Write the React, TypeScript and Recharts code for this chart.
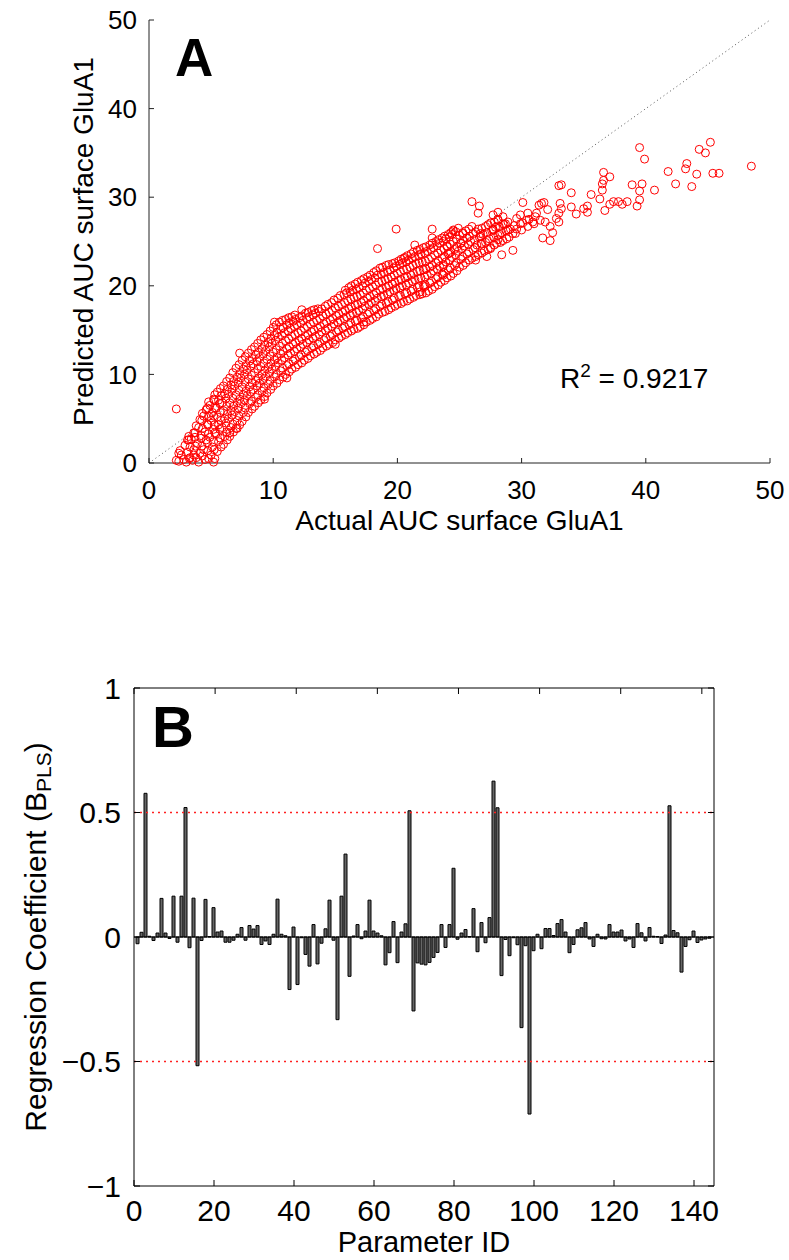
import {
  ScatterChart,
  Scatter,
  BarChart,
  Bar,
  XAxis,
  YAxis,
  ReferenceLine,
} from 'recharts'

// Panel A: actual vs predicted AUC surface GluA1, [actual, predicted]
const aucPoints: [number, number][] = [
  [2.2, 6.1], [2.2, 0.3], [2.4, 1.1], [2.4, 0.2], [2.6, 0.9], [2.5, 1.4], [2.8, 0.4],
  [3.0, 0.1], [3.1, 1.2], [2.9, 2.0], [3.2, 2.6], [3.3, 0.6], [3.1, 2.6], [3.6, 3.4],
  [3.5, 0.3], [3.6, 1.5], [3.4, 2.7], [3.7, 3.4], [3.6, 0.9],
  [4.0, 0.1], [4.1, 1.1], [3.9, 2.2], [4.2, 3.1], [4.0, 4.0], [4.1, 4.9],
  [4.5, 0.4], [4.4, 1.5], [4.6, 2.6], [4.5, 3.5], [4.7, 4.4], [4.4, 5.3], [4.6, 6.0],
  [5.0, 0.9], [5.1, 1.8], [4.9, 2.9], [5.2, 3.8], [5.0, 4.8], [5.1, 5.7], [4.9, 6.5], [5.2, 7.2], [5.2, 0.1],
  [5.5, 1.3], [5.6, 2.4], [5.4, 3.3], [5.6, 4.3], [5.5, 5.2], [5.4, 6.2], [5.6, 7.1], [5.5, 8.0],
  [6.0, 2.1], [6.1, 3.0], [5.9, 4.0], [6.1, 5.0], [6.0, 5.9], [5.9, 6.8], [6.1, 7.8], [6.0, 8.7],
  [6.5, 3.0], [6.6, 4.0], [6.4, 5.0], [6.6, 5.9], [6.5, 6.8], [6.4, 7.8], [6.6, 8.8], [6.5, 9.6], [6.5, 3.4],
  [7.0, 3.9], [7.1, 4.8], [6.9, 5.8], [7.1, 6.8], [7.0, 7.7], [6.9, 8.7], [7.1, 9.7], [7.0, 10.7], [7.1, 3.9],
  [7.5, 4.7], [7.6, 5.7], [7.4, 6.7], [7.6, 7.7], [7.5, 8.6], [7.4, 9.6], [7.6, 10.6], [7.5, 11.6], [7.3, 12.4],
  [8.0, 5.7], [8.1, 6.7], [7.9, 7.6], [8.1, 8.6], [8.0, 9.5], [7.9, 10.5], [8.1, 11.5], [8.0, 12.4],
  [8.5, 6.4], [8.6, 7.4], [8.4, 8.3], [8.6, 9.3], [8.5, 10.2], [8.4, 11.2], [8.6, 12.2], [8.5, 13.1],
  [9.0, 7.1], [9.1, 8.1], [8.9, 9.0], [9.1, 10.0], [9.0, 10.9], [8.9, 11.9], [9.1, 12.9], [9.0, 13.9],
  [9.5, 7.9], [9.6, 8.9], [9.4, 9.8], [9.6, 10.8], [9.5, 11.7], [9.4, 12.7], [9.6, 13.6], [9.5, 14.5], [9.3, 7.2],
  [10.0, 8.7], [10.1, 9.7], [9.9, 10.6], [10.1, 11.6], [10.0, 12.5], [9.9, 13.5], [10.1, 14.4], [10.0, 15.3], [10.1, 15.9],
  [10.5, 9.4], [10.6, 10.4], [10.4, 11.3], [10.6, 12.3], [10.5, 13.2], [10.4, 14.2], [10.6, 15.1], [10.5, 15.9],
  [11.0, 10.0], [11.1, 11.0], [10.9, 11.9], [11.1, 12.9], [11.0, 13.8], [10.9, 14.7], [11.1, 15.6], [11.0, 16.2], [11.1, 9.6],
  [11.5, 10.6], [11.6, 11.5], [11.4, 12.4], [11.6, 13.4], [11.5, 14.3], [11.4, 15.2], [11.6, 16.0], [11.5, 16.5],
  [12.0, 11.1], [12.1, 12.0], [11.9, 12.9], [12.1, 13.8], [12.0, 14.7], [11.9, 15.6], [12.1, 16.4], [12.3, 17.3],
  [12.5, 11.6], [12.6, 12.5], [12.4, 13.4], [12.6, 14.3], [12.5, 15.2], [12.4, 16.1], [12.6, 16.9],
  [13.0, 12.1], [13.1, 13.0], [12.9, 13.9], [13.1, 14.8], [13.0, 15.7], [12.9, 16.5], [13.1, 17.2],
  [13.5, 12.5], [13.6, 13.4], [13.4, 14.3], [13.6, 15.2], [13.5, 16.1], [13.4, 16.9], [13.6, 17.4],
  [14.0, 13.0], [14.1, 13.9], [13.9, 14.8], [14.1, 15.7], [14.0, 16.6], [13.9, 17.4],
  [14.5, 13.4], [14.6, 14.3], [14.4, 15.2], [14.6, 16.1], [14.5, 17.0], [14.4, 17.9],
  [15.0, 13.9], [15.1, 14.8], [14.9, 15.7], [15.1, 16.6], [15.0, 17.5], [14.9, 18.4], [15.0, 13.4],
  [15.5, 14.3], [15.6, 15.2], [15.4, 16.1], [15.6, 17.0], [15.5, 17.9], [15.4, 18.9],
  [16.0, 14.7], [16.1, 15.6], [15.9, 16.5], [16.1, 17.4], [16.0, 18.3], [15.9, 19.2], [16.1, 19.8],
  [16.5, 15.1], [16.6, 16.0], [16.4, 16.9], [16.6, 17.8], [16.5, 18.7], [16.4, 19.5], [16.6, 20.2],
  [17.0, 15.4], [17.1, 16.3], [16.9, 17.2], [17.1, 18.1], [17.0, 19.0], [16.9, 19.8], [17.1, 20.6], [17.3, 15.9],
  [17.5, 15.9], [17.6, 16.8], [17.4, 17.7], [17.6, 18.6], [17.5, 19.5], [17.4, 20.3], [17.6, 21.0],
  [18.0, 16.3], [18.1, 17.2], [17.9, 18.1], [18.1, 19.0], [18.0, 19.9], [17.9, 20.7], [18.1, 21.5], [18.4, 24.2],
  [18.5, 16.8], [18.6, 17.7], [18.4, 18.6], [18.6, 19.5], [18.5, 20.4], [18.4, 21.2], [18.6, 22.0],
  [19.0, 17.1], [19.1, 18.0], [18.9, 18.9], [19.1, 19.8], [19.0, 20.7], [18.9, 21.5], [19.1, 22.3],
  [19.5, 17.5], [19.6, 18.4], [19.4, 19.3], [19.6, 20.2], [19.5, 21.0], [19.4, 21.8], [19.6, 22.5], [19.9, 26.4],
  [20.0, 17.9], [20.1, 18.8], [19.9, 19.7], [20.1, 20.6], [20.0, 21.4], [19.9, 22.2], [20.1, 22.8],
  [20.5, 18.2], [20.6, 19.1], [20.4, 20.0], [20.6, 20.9], [20.5, 21.8], [20.4, 22.6], [20.6, 23.2], [20.5, 23.1],
  [21.0, 18.5], [21.1, 19.4], [20.9, 20.3], [21.1, 21.2], [21.0, 22.1], [20.9, 22.9], [21.1, 23.6],
  [21.5, 18.9], [21.6, 19.8], [21.4, 20.7], [21.6, 21.6], [21.5, 22.5], [21.4, 23.3], [21.6, 24.0], [21.4, 24.6],
  [22.0, 19.1], [22.1, 20.0], [21.9, 20.9], [22.1, 21.8], [22.0, 22.7], [21.9, 23.6], [22.1, 24.3], [21.8, 19.3],
  [22.5, 19.4], [22.6, 20.3], [22.4, 21.2], [22.6, 22.1], [22.5, 23.0], [22.4, 23.9], [22.6, 24.6], [22.8, 26.4], [22.8, 25.4],
  [23.0, 19.9], [23.1, 20.8], [22.9, 21.7], [23.1, 22.6], [23.0, 23.5], [22.9, 24.3], [23.1, 25.0], [22.2, 19.9],
  [23.5, 20.4], [23.6, 21.3], [23.4, 22.2], [23.6, 23.1], [23.5, 24.0], [23.4, 24.8], [23.6, 25.4], [23.7, 21.2],
  [24.0, 20.9], [24.1, 21.8], [23.9, 22.7], [24.1, 23.6], [24.0, 24.5], [23.9, 25.3], [24.1, 25.8], [24.5, 26.2],
  [24.5, 21.4], [24.6, 22.3], [24.4, 23.2], [24.6, 24.1], [24.5, 25.0], [24.4, 25.8], [24.0, 24.4], [23.7, 22.2],
  [25.0, 22.1], [25.1, 23.0], [24.9, 23.9], [25.1, 24.8], [25.0, 25.7], [24.9, 26.5], [24.5, 26.3], [25.3, 25.9],
  [25.5, 22.6], [25.6, 23.6], [25.4, 24.5], [25.6, 25.4], [25.5, 26.2], [25.1, 24.8], [24.2, 23.7],
  [26.0, 23.1], [26.1, 24.1], [25.9, 25.0], [26.1, 25.9], [26.0, 26.7], [26.0, 29.5], [26.6, 29.0], [26.5, 28.2],
  [26.5, 23.5], [26.4, 24.6], [26.6, 25.5], [26.5, 26.4], [26.7, 25.9], [26.8, 24.8], [26.3, 22.9],
  [27.0, 23.9], [27.1, 24.9], [26.9, 25.8], [27.1, 26.7], [27.2, 23.3], [27.5, 24.2], [27.7, 26.3],
  [27.5, 24.3], [27.4, 25.3], [27.6, 26.2], [27.5, 27.1], [27.7, 28.0], [28.1, 28.3],
  [28.0, 24.8], [28.1, 25.7], [27.9, 26.6], [28.1, 27.4], [28.1, 25.2], [28.4, 23.5], [28.1, 27.5],
  [28.5, 25.1], [28.4, 26.0], [28.6, 26.9], [28.5, 27.8], [28.5, 27.0], [28.9, 26.3],
  [29.0, 25.5], [29.1, 26.4], [28.9, 27.2], [29.3, 25.9], [29.3, 24.0], [29.6, 26.4],
  [29.5, 25.9], [29.4, 26.8], [29.6, 27.6], [29.9, 27.0], [30.1, 29.4],
  [30.0, 26.3], [30.1, 27.1], [29.9, 28.0], [30.4, 27.4], [30.5, 28.2], [30.9, 27.2],
  [30.5, 26.7], [30.6, 27.5], [31.0, 27.0], [31.1, 27.8], [31.2, 28.2], [31.5, 27.4], [31.9, 27.2],
  [31.7, 25.4], [32.3, 25.1], [32.5, 26.0], [32.3, 26.7], [32.1, 28.6], [31.6, 29.3], [31.4, 29.1], [31.8, 29.4],
  [33.0, 31.3], [33.2, 31.4], [33.1, 29.3], [33.2, 28.7], [33.0, 28.2], [32.8, 27.6], [33.0, 27.2],
  [34.0, 30.5], [34.4, 28.1], [34.0, 28.9], [35.3, 29.0], [35.3, 28.3], [35.0, 28.7], [35.6, 30.3],
  [36.3, 29.8], [36.6, 32.8], [36.6, 31.9], [36.5, 31.5], [36.5, 30.8], [37.1, 32.3], [36.7, 28.5],
  [37.1, 29.2], [37.4, 29.5], [37.8, 29.5], [38.1, 29.2], [38.5, 29.5], [39.3, 29.0],
  [39.5, 30.7], [39.5, 29.7], [38.9, 31.4], [39.7, 31.5], [40.7, 30.8], [39.5, 35.6], [39.9, 34.3],
  [41.8, 32.9], [42.4, 31.5], [43.3, 33.8], [43.2, 33.2], [43.7, 31.2], [44.1, 32.6],
  [44.3, 35.4], [44.8, 35.0], [45.2, 36.2], [45.4, 32.7], [45.9, 32.7], [48.5, 33.5],
]

// more samples filling the dense part of the cloud
const aucPointsDense: [number, number][] = [
  [3.25, 0.5], [3.3, 1.8], [3.2, 3.0],
  [3.8, 0.6], [3.75, 1.9], [3.7, 2.9], [3.8, 4.2],
  [4.3, 0.8], [4.25, 1.9], [4.2, 2.8], [4.3, 3.9], [4.25, 4.8], [4.3, 5.6],
  [4.8, 0.5], [4.75, 1.4], [4.7, 2.3], [4.8, 3.3], [4.75, 4.3], [4.8, 5.3], [4.7, 6.2], [4.8, 6.9],
  [5.3, 0.5], [5.25, 1.5], [5.2, 2.4], [5.3, 3.4], [5.25, 4.3], [5.2, 5.3], [5.3, 6.2], [5.25, 7.1], [5.3, 7.7],
  [5.8, 1.8], [5.75, 2.8], [5.7, 3.8], [5.8, 4.8], [5.75, 5.7], [5.7, 6.7], [5.8, 7.6], [5.75, 8.4],
  [6.3, 2.6], [6.25, 3.5], [6.2, 4.5], [6.3, 5.5], [6.25, 6.4], [6.2, 7.3], [6.3, 8.3], [6.25, 9.2],
  [6.8, 3.5], [6.75, 4.4], [6.7, 5.4], [6.8, 6.4], [6.75, 7.3], [6.7, 8.3], [6.8, 9.2], [6.75, 10.2],
  [7.3, 4.3], [7.25, 5.3], [7.2, 6.2], [7.3, 7.2], [7.25, 8.2], [7.2, 9.1], [7.3, 10.1], [7.25, 11.1],
  [7.8, 5.2], [7.75, 6.2], [7.7, 7.1], [7.8, 8.1], [7.75, 9.1], [7.7, 10.0], [7.8, 11.0], [7.75, 12.0],
  [8.3, 6.1], [8.25, 7.0], [8.2, 8.0], [8.3, 9.0], [8.25, 9.9], [8.2, 10.9], [8.3, 11.8], [8.25, 12.8],
  [8.8, 6.8], [8.75, 7.7], [8.7, 8.7], [8.8, 9.6], [8.75, 10.6], [8.7, 11.5], [8.8, 12.5], [8.75, 13.5],
  [9.3, 7.5], [9.25, 8.5], [9.2, 9.4], [9.3, 10.4], [9.25, 11.3], [9.2, 12.3], [9.3, 13.3], [9.25, 14.2],
  [9.8, 8.3], [9.75, 9.3], [9.7, 10.2], [9.8, 11.2], [9.75, 12.1], [9.7, 13.1], [9.8, 14.0], [9.75, 14.9],
  [10.3, 9.0], [10.25, 10.0], [10.2, 10.9], [10.3, 11.9], [10.25, 12.8], [10.2, 13.8], [10.3, 14.7], [10.25, 15.6],
  [10.8, 9.7], [10.75, 10.7], [10.7, 11.6], [10.8, 12.6], [10.75, 13.5], [10.7, 14.4], [10.8, 15.3], [10.75, 16.1],
  [11.3, 10.3], [11.25, 11.2], [11.2, 12.2], [11.3, 13.1], [11.25, 14.0], [11.2, 14.9], [11.3, 15.8], [11.25, 16.4],
  [11.8, 10.8], [11.75, 11.7], [11.7, 12.6], [11.8, 13.6], [11.75, 14.5], [11.7, 15.4], [11.8, 16.2], [11.75, 16.7],
  [12.3, 11.3], [12.25, 12.2], [12.2, 13.1], [12.3, 14.0], [12.25, 14.9], [12.2, 15.8], [12.3, 16.6],
  [12.8, 11.8], [12.75, 12.7], [12.7, 13.6], [12.8, 14.5], [12.75, 15.4], [12.7, 16.3], [12.8, 17.0],
  [13.3, 12.3], [13.25, 13.2], [13.2, 14.1], [13.3, 15.0], [13.25, 15.9], [13.2, 16.7], [13.3, 17.3],
  [13.8, 12.7], [13.75, 13.6], [13.7, 14.5], [13.8, 15.4], [13.75, 16.3], [13.7, 17.1],
  [14.3, 13.2], [14.25, 14.1], [14.2, 15.0], [14.3, 15.9], [14.25, 16.8], [14.2, 17.7],
  [14.8, 13.6], [14.75, 14.5], [14.7, 15.4], [14.8, 16.3], [14.75, 17.2], [14.7, 18.1],
  [15.3, 14.1], [15.25, 15.0], [15.2, 15.9], [15.3, 16.8], [15.25, 17.7], [15.2, 18.6],
  [15.8, 14.5], [15.75, 15.4], [15.7, 16.3], [15.8, 17.2], [15.75, 18.1], [15.7, 19.0], [15.8, 19.5],
  [16.3, 14.9], [16.25, 15.8], [16.2, 16.7], [16.3, 17.6], [16.25, 18.5], [16.2, 19.3], [16.3, 20.0],
  [16.8, 15.2], [16.75, 16.1], [16.7, 17.0], [16.8, 17.9], [16.75, 18.8], [16.7, 19.6], [16.8, 20.4],
  [17.3, 15.6], [17.25, 16.5], [17.2, 17.4], [17.3, 18.3], [17.25, 19.2], [17.2, 20.0], [17.3, 20.8],
  [17.8, 16.1], [17.75, 17.0], [17.7, 17.9], [17.8, 18.8], [17.75, 19.7], [17.7, 20.5], [17.8, 21.2],
  [18.3, 16.5], [18.25, 17.4], [18.2, 18.3], [18.3, 19.2], [18.25, 20.1], [18.2, 20.9], [18.3, 21.7],
  [18.8, 17.0], [18.75, 17.9], [18.7, 18.8], [18.8, 19.7], [18.75, 20.5], [18.7, 21.3], [18.8, 22.1],
  [19.3, 17.3], [19.25, 18.2], [19.2, 19.1], [19.3, 20.0], [19.25, 20.8], [19.2, 21.6], [19.3, 22.4],
  [19.8, 17.7], [19.75, 18.6], [19.7, 19.5], [19.8, 20.4], [19.75, 21.2], [19.7, 22.0], [19.8, 22.6],
  [20.3, 18.0], [20.25, 18.9], [20.2, 19.8], [20.3, 20.7], [20.25, 21.6], [20.2, 22.4], [20.3, 23.0],
  [20.8, 18.3], [20.75, 19.2], [20.7, 20.1], [20.8, 21.0], [20.75, 21.9], [20.7, 22.7], [20.8, 23.4],
  [21.3, 18.7], [21.25, 19.6], [21.2, 20.5], [21.3, 21.4], [21.25, 22.3], [21.2, 23.1], [21.3, 23.8],
  [21.8, 19.0], [21.75, 19.9], [21.7, 20.8], [21.8, 21.7], [21.75, 22.6], [21.7, 23.4], [21.8, 24.1],
  [22.3, 19.2], [22.25, 20.1], [22.2, 21.0], [22.3, 21.9], [22.25, 22.8], [22.2, 23.7], [22.3, 24.4],
  [22.8, 19.6], [22.75, 20.5], [22.7, 21.4], [22.8, 22.3], [22.75, 23.2], [22.7, 24.1], [22.8, 24.8],
  [23.3, 20.1], [23.25, 21.0], [23.2, 21.9], [23.3, 22.8], [23.25, 23.7], [23.2, 24.5], [23.3, 25.2],
  [23.8, 20.6], [23.75, 21.5], [23.7, 22.4], [23.8, 23.3], [23.75, 24.2], [23.7, 25.0], [23.8, 25.6],
  [24.3, 21.1], [24.25, 22.0], [24.2, 22.9], [24.3, 23.8], [24.25, 24.7], [24.2, 25.5], [24.3, 26.0],
  [24.8, 21.7], [24.75, 22.6], [24.7, 23.5], [24.8, 24.4], [24.75, 25.3], [24.7, 26.1],
  [25.3, 22.3], [25.25, 23.3], [25.2, 24.2], [25.3, 25.1], [25.25, 26.0],
  [25.8, 22.9], [25.75, 23.8], [25.7, 24.7], [25.8, 25.6], [25.75, 26.4],
  [26.3, 23.3], [26.25, 24.3], [26.2, 25.2], [26.3, 26.1],
  [26.8, 23.7], [26.75, 24.7], [26.7, 25.6], [26.8, 26.5],
  [27.3, 24.1], [27.25, 25.1], [27.2, 26.0], [27.3, 26.9],
  [27.8, 24.6], [27.75, 25.5], [27.7, 26.4], [27.8, 27.2],
  [28.3, 24.9], [28.25, 25.8], [28.2, 26.7],
  [28.8, 25.3], [28.75, 26.2], [28.7, 27.0],
]

// Panel B: PLS regression coefficients for parameters 1..144
const plsCoefficients = [
  -0.027, 0.019, 0.577, 0.003, -0.014, 0.016, 0.155, 0.016, -0.006, 0.164,
  -0.021, 0.164, 0.52, -0.043, 0.156, -0.517, -0.014, 0.151, 0.002, 0.118,
  0.02, 0.024, -0.021, -0.021, -0.013, 0.011, 0.038, -0.013, 0.046, 0.032,
  0.046, -0.03, -0.016, -0.03, 0.011, 0.152, 0.011, 0.005, -0.211, 0.04,
  -0.191, -0.003, -0.07, -0.117, 0.05, -0.108, -0.025, 0.033, 0.148, -0.013,
  -0.332, 0.164, 0.333, -0.158, 0.004, 0.05, -0.007, 0.024, 0.148, 0.024,
  0.016, 0.005, -0.112, -0.063, 0.062, -0.103, 0.02, 0.053, 0.507, -0.297,
  -0.104, -0.109, -0.112, -0.102, -0.082, -0.062, 0.05, -0.042, 0.05, 0.276,
  -0.009, 0.016, 0.03, 0.002, 0.114, -0.059, 0.058, -0.023, 0.078, 0.626,
  0.519, -0.155, -0.01, -0.075, -0.003, -0.031, -0.364, -0.035, -0.711, -0.055,
  0.011, -0.047, 0.034, 0.034, 0.006, 0.054, 0.07, 0.02, -0.063, -0.03,
  0.029, 0.037, 0.058, -0.008, -0.038, 0.011, -0.007, -0.008, 0.05, 0.02,
  0.02, 0.028, -0.016, -0.008, -0.042, 0.054, 0.017, -0.016, 0.038, 0.003,
  0.002, -0.026, 0.008, 0.527, 0.026, 0.017, -0.141, -0.038, -0.011, 0.024,
  -0.022, -0.012, -0.008, -0.005,
]

const aucTicks = [0, 10, 20, 30, 40, 50]
const paramTicks = [0, 20, 40, 60, 80, 100, 120, 140]
const coefTicks = [-1, -0.5, 0, 0.5, 1]
const thresholds = [0.5, -0.5]

const scatterData = [...aucPoints, ...aucPointsDense].map(([actual, predicted]) => ({ actual, predicted }))
const barData = plsCoefficients.map((coef, i) => ({ id: i + 1, coef }))

const FONT = '"Liberation Sans", Arial, Helvetica, sans-serif'
const minusFmt = (v: number) => (v < 0 ? '\u2212' + Math.abs(v) : String(v))

const OpenCircle = (props: any) => (
  <circle cx={props.cx} cy={props.cy} r={4} fill="none" stroke="#ff0000" strokeWidth={1} />
)

export default function App() {
  const tickA = { fill: '#000', fontSize: 26, fontFamily: FONT }
  const tickB = { fill: '#000', fontSize: 30, fontFamily: FONT }

  return (
    <div style={{ position: 'absolute', left: 0, top: 0, width: 789, height: 1260, background: '#fff', fontFamily: FONT }}>
      <div style={{ position: 'absolute', left: 0, top: 0 }}>
        <ScatterChart width={789} height={540} margin={{ top: 20, right: 19, bottom: 0, left: 0 }}>
          <XAxis
            type="number"
            dataKey="actual"
            domain={[0, 50]}
            ticks={aucTicks}
            height={77}
            stroke="#222"
            tick={tickA}
            tickSize={-5}
            tickMargin={23}
            label={{ value: 'Actual AUC surface GluA1', position: 'insideBottom', offset: 10, fontSize: 28, fill: '#000', fontFamily: FONT }}
          />
          <YAxis
            type="number"
            dataKey="predicted"
            domain={[0, 50]}
            ticks={aucTicks}
            width={149}
            stroke="#222"
            tick={tickA}
            tickSize={-5}
            tickMargin={17}
            label={{ value: 'Predicted AUC surface GluA1', angle: -90, position: 'insideLeft', offset: 83, fontSize: 28, fill: '#000', fontFamily: FONT, style: { textAnchor: 'middle' } }}
          />
          <ReferenceLine segment={[{ x: 0, y: 0 }, { x: 50, y: 50 }]} stroke="#555" strokeDasharray="1 3" />
          <Scatter data={scatterData} shape={OpenCircle} isAnimationActive={false} />
        </ScatterChart>
      </div>

      <div style={{ position: 'absolute', left: 0, top: 640 }}>
        <BarChart width={789} height={620} data={barData} margin={{ top: 43, right: 70, bottom: 0, left: 0 }}>
          <XAxis
            type="number"
            dataKey="id"
            domain={[0, 145]}
            ticks={paramTicks}
            height={74}
            stroke="#000"
            tick={tickB}
            tickSize={-6}
            tickMargin={20}
            label={{ value: 'Parameter ID', position: 'insideBottom', offset: 8, fontSize: 29, fill: '#000', fontFamily: FONT }}
          />
          <XAxis
            xAxisId="top"
            orientation="top"
            type="number"
            domain={[0, 145]}
            ticks={paramTicks}
            height={5}
            stroke="#000"
            tickSize={-6}
            tickFormatter={() => ''}
            allowDataOverflow
          />
          <YAxis
            type="number"
            domain={[-1, 1]}
            ticks={coefTicks}
            width={134}
            stroke="#000"
            tick={tickB}
            tickSize={-6}
            tickMargin={19}
            tickFormatter={minusFmt}
            allowDataOverflow
          />
          <YAxis
            yAxisId="right"
            orientation="right"
            type="number"
            domain={[-1, 1]}
            ticks={coefTicks}
            width={5}
            stroke="#000"
            tickSize={-6}
            tickFormatter={() => ''}
            allowDataOverflow
          />
          {thresholds.map((t) => (
            <ReferenceLine key={t} y={t} stroke="#ff2020" strokeWidth={1.3} strokeDasharray="2 4" />
          ))}
          <ReferenceLine y={0} stroke="#000" />
          <Bar dataKey="coef" fill="#666" stroke="#000" strokeWidth={1} barSize={3} isAnimationActive={false} />
        </BarChart>
      </div>

      <svg width={789} height={1260} style={{ position: 'absolute', left: 0, top: 0, pointerEvents: 'none' }} fontFamily={FONT}>
        <text x={175} y={76} fontSize={53} fontWeight="bold">A</text>
        <text x={560} y={388} fontSize={28}>
          R<tspan dy={-11} fontSize={19}>2</tspan>
          <tspan dy={11}> = 0.9217</tspan>
        </text>
        <text x={152} y={747} fontSize={58} fontWeight="bold">B</text>
        <text transform="translate(35, 937) rotate(-90)" textAnchor="middle" dominantBaseline="central" fontSize={30}>
          Regression Coefficient (B<tspan dy={8} fontSize={21}>PLS</tspan>
          <tspan dy={-8}>)</tspan>
        </text>
      </svg>
    </div>
  )
}
